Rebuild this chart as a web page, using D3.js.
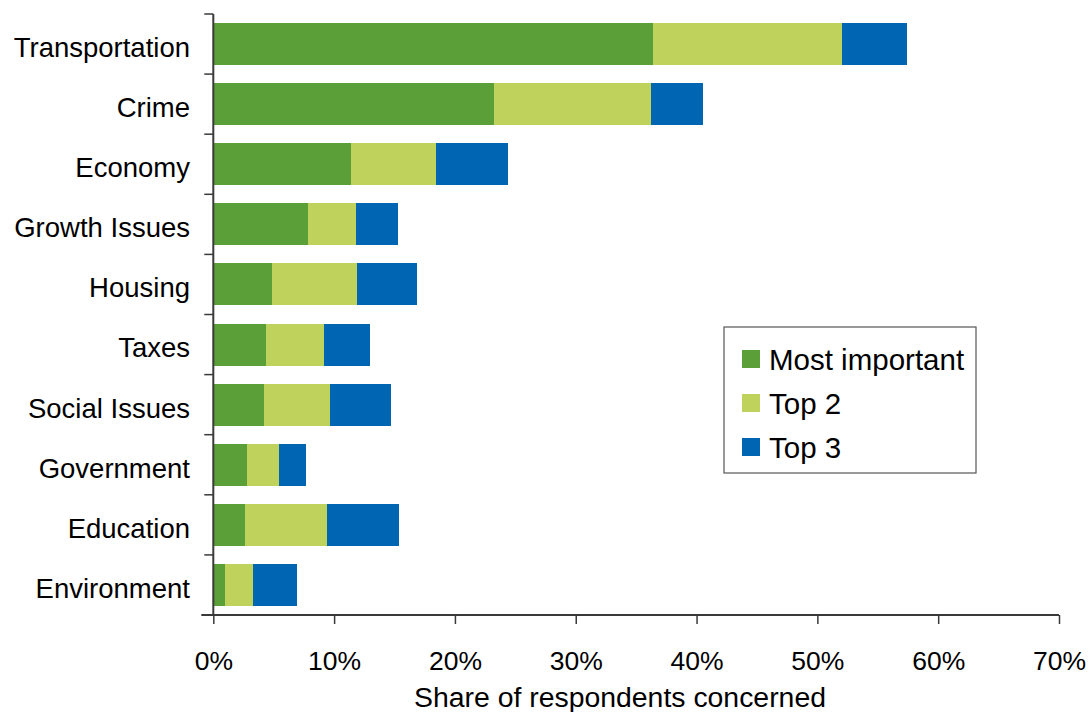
<!DOCTYPE html>
<html><head><meta charset="utf-8">
<script src="https://cdn.jsdelivr.net/npm/d3@7"></script>
<style>
html,body{margin:0;padding:0;background:#fff;}
text{font-family:"Liberation Sans",Arial,sans-serif;fill:#000;}
</style></head>
<body><svg id="c" width="1091" height="712"></svg>
<script>
const categories = ["Transportation","Crime","Economy","Growth Issues","Housing","Taxes","Social Issues","Government","Education","Environment"];
const seriesNames = ["Most important","Top 2","Top 3"];
const mostImportant = [36.4, 23.2, 11.4, 7.8, 4.9, 4.4, 4.2, 2.8, 2.6, 1.0];
const top2 = [15.6, 13.0, 7.0, 4.0, 7.0, 4.8, 5.5, 2.6, 6.8, 2.3];
const top3 = [5.4, 4.3, 6.0, 3.5, 5.0, 3.8, 5.0, 2.3, 6.0, 3.6];
const xTicks = [0,10,20,30,40,50,60,70];
const colors = ["#5B9F38","#BFD35C","#0066B3"];

const rows = categories.map((c,i)=>({cat:c,"Most important":mostImportant[i],"Top 2":top2[i],"Top 3":top3[i]}));
const stacked = d3.stack().keys(seriesNames)(rows);

const svg = d3.select("#c");
const L=213.3, R=1059, T=14, B=615;
const x = d3.scaleLinear().domain([0,70]).range([L,R]);
const y = d3.scaleBand().domain(categories).range([T,B]).paddingInner(0.3).paddingOuter(0.15);

svg.append("g").selectAll("g").data(stacked).join("g")
  .attr("fill",(d,i)=>colors[i])
  .selectAll("rect").data(d=>d).join("rect")
  .attr("x",d=>x(d[0])).attr("width",d=>x(d[1])-x(d[0]))
  .attr("y",d=>y(d.data.cat)).attr("height",y.bandwidth())
  .attr("shape-rendering","crispEdges");

const axisColor="#3a3a3a";
const yb = d3.scaleLinear().domain([0,categories.length]).range([T,B]);
const ya = svg.append("g");
ya.append("line").attr("x1",L).attr("x2",L).attr("y1",T).attr("y2",B).attr("stroke",axisColor).attr("stroke-width",2);
ya.selectAll("line.t").data(d3.range(categories.length+1)).join("line").attr("class","t")
  .attr("x1",L-9).attr("x2",L).attr("y1",d=>yb(d)).attr("y2",d=>yb(d)).attr("stroke",axisColor).attr("stroke-width",1.5);
ya.selectAll("text").data(categories).join("text")
  .attr("x",190).attr("y",d=>y(d)+y.bandwidth()/2+3).attr("dy","0.36em")
  .attr("text-anchor","end").attr("font-size",27.5).text(d=>d);

const xa = svg.append("g").attr("transform",`translate(0,${B})`)
  .call(d3.axisBottom(x).tickValues(xTicks).tickFormat(d=>d+"%").tickSize(9).tickPadding(27));
xa.select(".domain").attr("stroke",axisColor).attr("stroke-width",2).attr("d",`M${L-12},0H${R}`);
xa.selectAll(".tick line").attr("stroke",axisColor).attr("stroke-width",1.5);
xa.selectAll(".tick text").attr("font-size",26.5).attr("font-family","Liberation Sans, Arial, sans-serif").attr("fill","#000");

svg.append("text").attr("x",620).attr("y",707).attr("text-anchor","middle").attr("font-size",28.4)
  .text("Share of respondents concerned");

const lg = svg.append("g");
lg.append("rect").attr("x",724).attr("y",327).attr("width",252).attr("height",146)
  .attr("fill","#fff").attr("stroke","#555").attr("stroke-width",1.2);
const li = lg.selectAll("g").data(seriesNames).join("g")
  .attr("transform",(d,i)=>`translate(742,${350+i*44})`);
li.append("rect").attr("width",18).attr("height",18).attr("fill",(d,i)=>colors[i]);
li.append("text").attr("x",27).attr("y",9).attr("dy","0.36em").attr("font-size",29.5).text(d=>d);
</script></body></html>
